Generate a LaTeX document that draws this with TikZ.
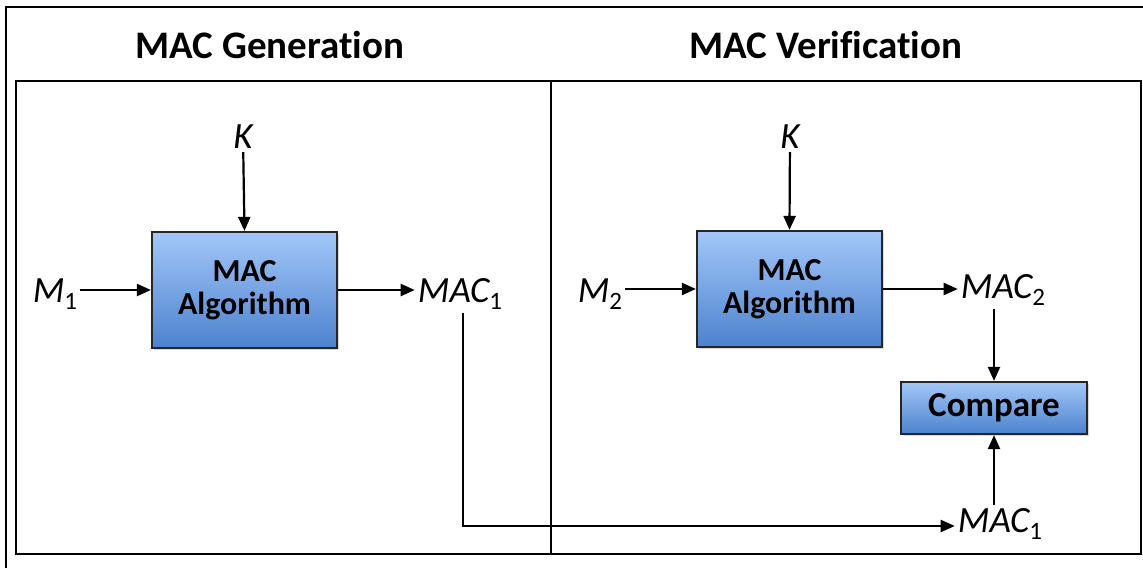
\documentclass[tikz,border=0pt]{standalone}
\usepackage{fontspec}
\setmainfont{Carlito}[Ligatures={NoCommon}]
\usetikzlibrary{arrows.meta,shadows}
\definecolor{boxtop}{HTML}{A3C7F8}
\definecolor{boxbot}{HTML}{4C82CE}
\newcommand\lowsub[1]{\raisebox{-7pt}{\fontsize{25}{25}\selectfont\upshape #1}}
\tikzset{
  blk/.style={draw=black!85, line width=2.2pt, top color=boxtop, bottom color=boxbot,
    align=center, font=\fontsize{32}{33}\selectfont\bfseries, inner sep=0pt,
    drop shadow={shadow xshift=2pt, shadow yshift=-2pt, fill=black!30, opacity=0.5}},
  lbl/.style={font=\fontsize{37}{37}\selectfont\itshape, inner sep=3pt},
  arr/.style={line width=2.2pt, -{Triangle[length=14pt,width=12pt]}},
  frm/.style={line width=2.4pt},
  ttl/.style={font=\fontsize{39}{39}\selectfont\bfseries}
}
\begin{document}
\begin{tikzpicture}[x=1pt,y=-1pt]
\useasboundingbox (0,0) rectangle (1143,568);
\draw[frm] (6,568) -- (6,7) -- (1143,7);
\draw[frm] (16,81) rectangle (1141,554);
\draw[frm] (551,81) -- (551,554);

\node[ttl] (t1) at (270,45) {MAC Generation};
\node[ttl] (t2) at (826,45) {MAC Verification};

% left
\node[blk, minimum width=185pt, minimum height=116pt] (alg1) at (244.5,290) {MAC\\Algorithm};
\node[lbl] (k1) at (243,137) {K};
\node[lbl] (m1) at (55,294) {M\lowsub{1}};
\node[lbl] (mac1a) at (460,294) {MAC\lowsub{1}};
\draw[arr] (k1) -- (alg1.north);
\draw[arr] (m1.east |- alg1.west) -- (alg1.west);
\draw[arr] (alg1.east) -- (mac1a.west |- alg1.east);

% right
\node[blk, minimum width=185pt, minimum height=116pt] (alg2) at (789.5,289) {MAC\\Algorithm};
\node[blk, minimum width=186pt, minimum height=52pt, font=\fontsize{35}{35}\selectfont\bfseries] (cmp) at (994,408) {Compare};
\node[lbl] (k2) at (790,137) {K};
\node[lbl] (m2) at (600,294) {M\lowsub{2}};
\node[lbl] (mac2) at (1003,290) {MAC\lowsub{2}};
\node[lbl] (mac1b) at (1000,524) {MAC\lowsub{1}};
\draw[arr] (k2) -- (alg2.north);
\draw[arr] (m2.east |- alg2.west) -- (alg2.west);
\draw[arr] (alg2.east) -- (mac2.west |- alg2.east);
\draw[arr] (mac2.south -| cmp.north) -- (cmp.north);
\draw[arr] (mac1b.north -| cmp.south) -- (cmp.south);

% transfer of MAC1
\coordinate (bend) at (463,526);
\draw[arr] (mac1a.south -| bend) -- (bend) -- (bend -| mac1b.west);
\end{tikzpicture}
\end{document}
